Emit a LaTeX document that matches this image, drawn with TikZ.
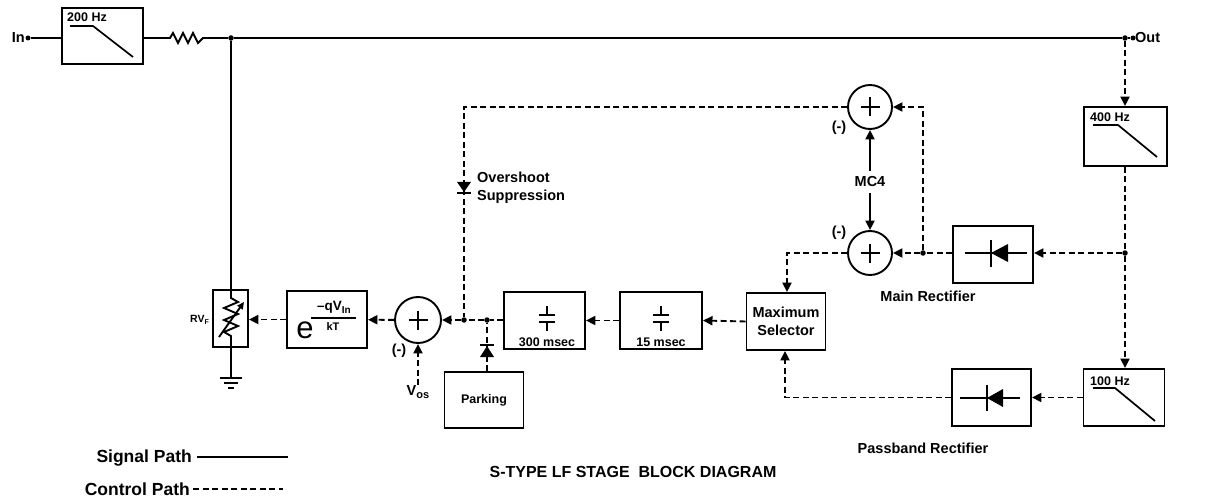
\documentclass[tikz,border=0pt]{standalone}
\usepackage{fontspec}
\setmainfont{Liberation Sans}
\usetikzlibrary{arrows.meta,calc}
\begin{document}
\begin{tikzpicture}[x=1pt,y=-1pt,
  sig/.style={line width=1.9pt},
  ctl/.style={line width=1.9pt,dash pattern=on 6pt off 3.5pt},
  arr/.style={-{Triangle[length=9.5pt,width=9pt]}},
  blk/.style={draw,line width=1.9pt,inner sep=0pt},
  sumj/.style={draw,circle,line width=1.9pt,minimum size=46pt,inner sep=0pt},
  dot/.style={circle,fill,inner sep=0pt,minimum size=5.5pt},
  lab/.style={font=\fontsize{14.5}{18}\selectfont\bfseries,inner sep=0pt},
  small/.style={font=\fontsize{12.5}{14}\selectfont\bfseries,inner sep=0pt},
  leg/.style={font=\fontsize{17.5}{20}\selectfont\bfseries,inner sep=0pt},
]
\useasboundingbox (0,0) rectangle (1208,500);

% input, 200 Hz filter, resistor
\node[lab,anchor=east] (inlab) at (25,38) {In};
\node[dot,minimum size=5pt] (indot) at (28,38) {};
\node[blk,minimum width=81pt,minimum height=56pt] (f200) at (102.5,36) {};
\node[small,anchor=west] (t200) at (67,17) {200 Hz};
\draw[sig,line width=1.7pt] (70,26) -- (93,26) -- (133,57);
\draw[sig] (indot) -- (indot -| f200.west);
\coordinate (r1) at (170,38);
\coordinate (r2) at (205,38);
\draw[sig] (f200.east |- r1) -- (r1) -- (173,33) -- (178,43) -- (183,33) -- (188,43) -- (193,33) -- (198,43) -- (203,38) -- (r2);
\node[dot] (j1) at (231,38) {};
\node[dot] (jout) at (1125,38) {};
\node[dot,minimum size=5pt] (outdot) at (1133,38) {};
\node[lab,anchor=west] (outlab) at (1135,38) {Out};
\draw[sig] (r2) -- (j1) -- (jout) -- (outdot);

% RV_F
\node[blk,minimum width=35pt,minimum height=57pt] (rvf) at (230.5,318.5) {};
\node[font=\fontsize{10.5}{10}\selectfont\bfseries,anchor=east,inner sep=0pt] (rvflab) at (209,320) {RV\raisebox{-2.5pt}{\fontsize{7}{7}\selectfont F}};
\draw[sig] (j1) -- (231,298) -- (238,302) -- (224,308) -- (238,314) -- (224,320) -- (238,326) -- (224,332) -- (231,336) -- (231,378) coordinate (gnd);
\draw[sig] (220,378) -- (242,378) (224,383) -- (238,383) (228,388) -- (234,388);
\draw[sig,-{Triangle[length=7pt,width=6.5pt]}] (219,337) -- (244,302);

% exponential block
\node[blk,minimum width=80pt,minimum height=57pt] (expb) at (327,319.5) {};
\node[font=\fontsize{31}{31}\selectfont,inner sep=0pt] (ee) at (305,330) {e};
\draw[sig,line width=1.3pt] (311,318) -- (356,318);
\node[font=\fontsize{13.5}{13}\selectfont\bfseries,inner sep=0pt] (num) at (334,307) {–qV\raisebox{-3pt}{\fontsize{10}{10}\selectfont In}};
\node[font=\fontsize{11}{11}\selectfont\bfseries,inner sep=0pt] (den) at (333,327) {kT};
\draw[ctl,arr] (expb.west) -- (rvf.east |- expb.west);

% summing junctions
\node[sumj] (s1) at (418,320) {};
\node[sumj,minimum size=44pt] (s2) at (870,107) {};
\node[sumj,minimum size=44pt] (s3) at (870,253) {};
\foreach \n in {s1,s2,s3}
  \draw[sig] ([xshift=-9.5pt]\n.center) -- ([xshift=9.5pt]\n.center) ([yshift=-9.5pt]\n.center) -- ([yshift=9.5pt]\n.center);
\draw[ctl,arr] (s1) -- (expb);
\node[lab] (m1) at (399,351) {(-)};
\node[lab] (vos) at (418,392) {V\raisebox{-3pt}{\fontsize{11}{11}\selectfont os}};
\draw[ctl,arr] (vos) -- (s1);

% junctions on main control row
\node[dot] (jo) at (464,320) {};
\node[dot] (jp) at (487,320) {};
\draw[ctl,arr] (jo) -- (s1);
\draw[ctl] (jp) -- (jo);

% integrators
\node[blk,minimum width=81pt,minimum height=57pt] (i300) at (544.5,320.5) {};
\draw[sig] (547,306) -- (547,315) (539,315) -- (555,315) (539,322) -- (555,322) (547,322) -- (547,331);
\node[small] (t300) at (547,342) {300 msec};
\draw[ctl] (i300.west |- jp) -- (jp);
\node[blk,minimum width=82pt,minimum height=57pt] (i15) at (661,320.5) {};
\draw[sig] (661,306) -- (661,315) (653,315) -- (669,315) (653,322) -- (669,322) (661,322) -- (661,331);
\node[small] (t15) at (661,342) {15 msec};
\draw[ctl,arr] (i15.west) -- (i300.east);

% maximum selector
\node[blk,lab,minimum width=79pt,minimum height=57pt,align=center] (maxsel) at (786,321.5) {Maximum\\Selector};
\draw[ctl,arr] (maxsel.west) -- (i15.east);

% parking
\node[blk,small,minimum width=79pt,minimum height=56pt] (park) at (484,400) {Parking};
\draw[ctl] (jp |- park.north) -- (jp);
\fill (480,357) -- (494,357) -- (487,346) -- cycle;
\draw[sig] (480,345) -- (494,345);

% overshoot suppression
\draw[ctl] (s2) -| (jo);
\fill (457,182) -- (471,182) -- (464,192) -- cycle;
\draw[sig] (457,193) -- (471,193);
\node[lab,anchor=west,align=left] (ovs) at (477,188) {Overshoot\\Suppression};

% MC4
\node[lab] at (839,128) {(-)};
\node[lab] at (839,233) {(-)};
\node[lab,inner sep=6pt] (mc4) at (870,182) {MC4};
\draw[sig,arr] (mc4) -- (s2);
\draw[sig,arr] (mc4) -- (s3);

% main rectifier
\node[dot] (jm) at (923,253) {};
\draw[ctl,arr] (jm) |- (s2);
\draw[ctl,arr] (jm) -- (s3);
\node[blk,minimum width=80pt,minimum height=57pt] (mrect) at (993,254.5) {};
\draw[sig] (965,253) -- (1027,253) (991,240) -- (991,267);
\fill (991,253) -- (1008,244) -- (1008,262) -- cycle;
\draw[ctl] (mrect.west |- jm) -- (jm);
\node[lab] (mrlab) at (928,296) {Main Rectifier};
\node[dot] (jr) at (1125,253) {};
\draw[ctl,arr] (jr) -- (mrect.east |- jr);

% 400 Hz filter
\node[blk,minimum width=83pt,minimum height=59pt] (f400) at (1125.5,136.5) {};
\node[small,anchor=west] (t400) at (1090,117) {400 Hz};
\draw[sig,line width=1.7pt] (1093,125) -- (1118,125) -- (1157,157);
\draw[ctl,arr] (jout) -- (f400.north -| jout);
\draw[ctl] (f400.south -| jr) -- (jr);

% 100 Hz filter
\node[blk,minimum width=81pt,minimum height=57pt] (f100) at (1124,397.5) {};
\node[small,anchor=west] (t100) at (1090,381) {100 Hz};
\draw[sig,line width=1.7pt] (1093,388) -- (1115,388) -- (1155,421);
\draw[ctl,arr] (jr) -- (jr |- f100.north);

% passband rectifier
\node[blk,minimum width=79pt,minimum height=57pt] (prect) at (991.5,397.5) {};
\draw[sig] (960,398) -- (1020,398) (987,385) -- (987,411);
\fill (987,398) -- (1003,389) -- (1003,407) -- cycle;
\draw[ctl,arr] (f100.west) -- (prect.east);
\draw[ctl,arr] (prect.west) -| ($(maxsel.south)+(-1,0)$);
\node[lab] (pblab) at (923,448) {Passband Rectifier};
\draw[ctl,arr] (s3.west) -| ($(maxsel.north)+(1,0)$);

% title and legend
\node[font=\fontsize{16}{18}\selectfont\bfseries,inner sep=0pt] (title) at (633,472) {S-TYPE LF STAGE\ \ BLOCK DIAGRAM};
\node[leg,anchor=east] (sl) at (192,458) {Signal Path};
\draw[sig] (197,457) -- (288,457);
\node[leg,anchor=east] (cl) at (190,489) {Control Path};
\draw[ctl] (193,489) -- (283,489);
\end{tikzpicture}
\end{document}
